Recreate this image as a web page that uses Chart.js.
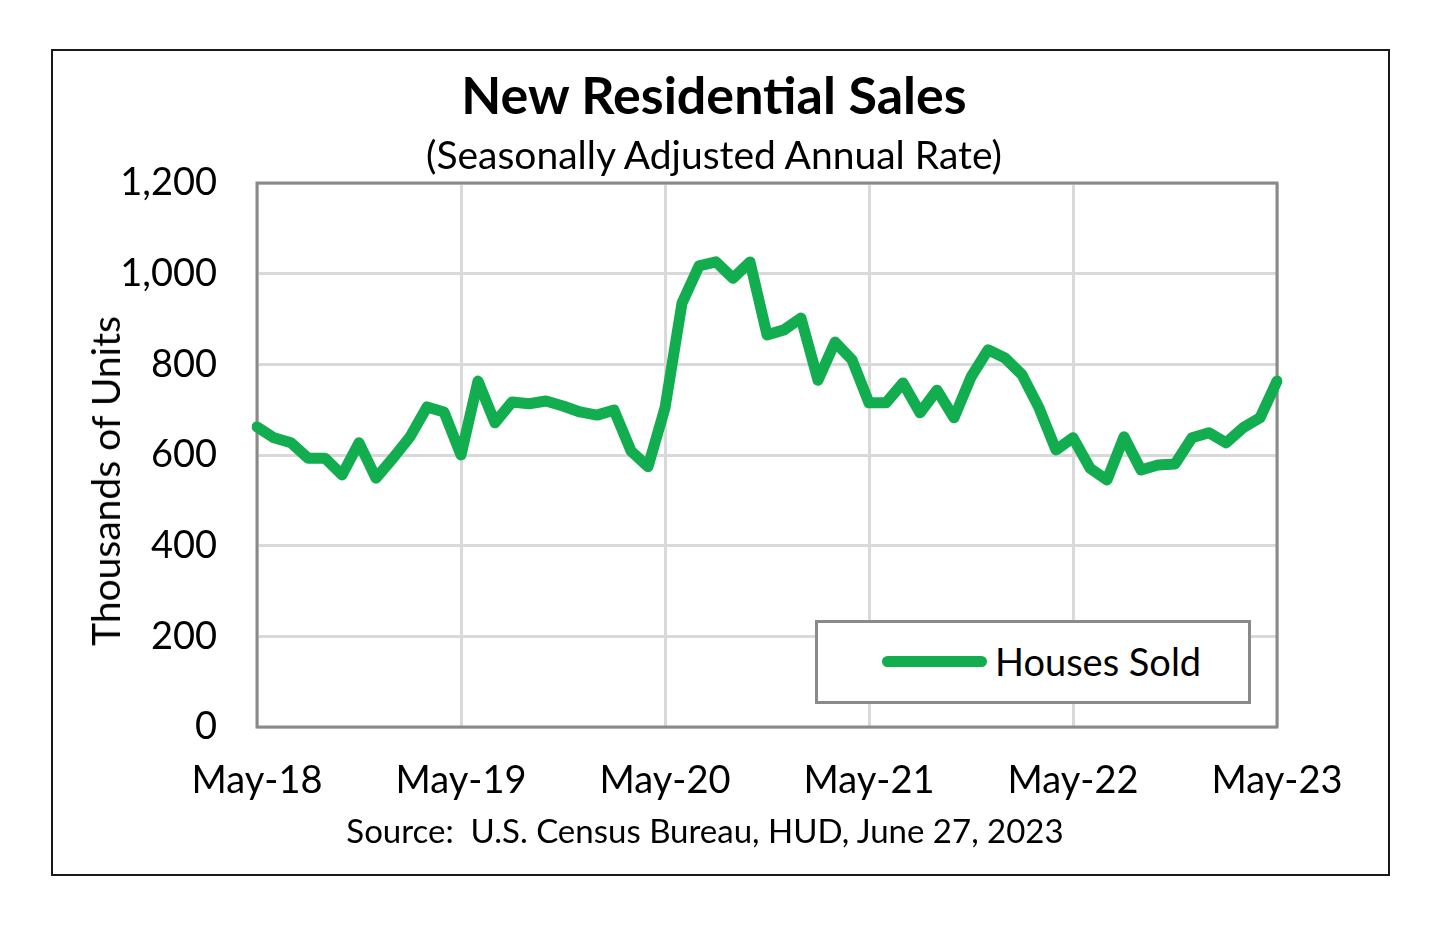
<!DOCTYPE html>
<html lang="en">
<head>
<meta charset="UTF-8">
<title>New Residential Sales</title>
<script src="https://cdn.jsdelivr.net/npm/chart.js@4.4.0/dist/chart.umd.min.js"></script>
<style>
    html, body { margin: 0; padding: 0; background: #fff; }
    body { width: 1440px; height: 932px; position: relative; overflow: hidden; font-family: Lato, 'Noto Sans', sans-serif; color: #000; }
    .marco { position: absolute; left: 51px; top: 49px; width: 1335px; height: 823px; border: 2px solid #1a1a1a; }
    #wrap { position: absolute; left: 0; top: 0; width: 1440px; height: 932px; }
    .titulo { position: absolute; left: 0; width: 1428px; top: 66px; text-align: center; font-weight: 700; font-size: 52px; line-height: 56px; }
    .subtitulo { position: absolute; left: 0; width: 1428px; top: 132px; text-align: center; font-size: 39px; line-height: 44px; }
    .fuente { position: absolute; left: 0; width: 1410px; top: 810px; text-align: center; font-size: 33px; line-height: 40px; }
    .eje-y { position: absolute; left: 105px; top: 481px; transform: translate(-50%, -50%) rotate(-90deg); white-space: nowrap; font-size: 39px; line-height: 44px; }
    .leyenda { position: absolute; left: 815px; top: 620px; width: 430px; height: 78px; border: 3px solid #8a8a8a; background: #fff; }
    .leyenda .muestra { position: absolute; left: 64px; top: 33px; width: 105px; height: 11px; border-radius: 6px; }
    .leyenda .texto { position: absolute; left: 177px; top: 16px; font-size: 38px; line-height: 44px; }
</style>
</head>
<body>
    <div class="marco"></div>
    <div id="wrap"><canvas id="ventasChart"></canvas></div>
    <div class="titulo">New Residential Sales</div>
    <div class="subtitulo">(Seasonally Adjusted Annual Rate)</div>
    <div class="eje-y">Thousands of Units</div>
    <div class="fuente">Source:&nbsp; U.S. Census Bureau, HUD, June 27, 2023</div>
    <div class="leyenda"><span class="muestra" id="muestra"></span><span class="texto" id="leyendaTexto"></span></div>

    <script>
        // datos (miles de unidades, tasa anual)
        const months = [
            'May-18', 'Jun-18', 'Jul-18', 'Aug-18', 'Sep-18', 'Oct-18', 'Nov-18', 'Dec-18', 'Jan-19', 'Feb-19', 'Mar-19', 'Apr-19',
            'May-19', 'Jun-19', 'Jul-19', 'Aug-19', 'Sep-19', 'Oct-19', 'Nov-19', 'Dec-19', 'Jan-20', 'Feb-20', 'Mar-20', 'Apr-20',
            'May-20', 'Jun-20', 'Jul-20', 'Aug-20', 'Sep-20', 'Oct-20', 'Nov-20', 'Dec-20', 'Jan-21', 'Feb-21', 'Mar-21', 'Apr-21',
            'May-21', 'Jun-21', 'Jul-21', 'Aug-21', 'Sep-21', 'Oct-21', 'Nov-21', 'Dec-21', 'Jan-22', 'Feb-22', 'Mar-22', 'Apr-22',
            'May-22', 'Jun-22', 'Jul-22', 'Aug-22', 'Sep-22', 'Oct-22', 'Nov-22', 'Dec-22', 'Jan-23', 'Feb-23', 'Mar-23', 'Apr-23',
            'May-23'
        ];
        const housesSold = [
            662, 638, 627, 593, 593, 556, 627, 549, 593, 640, 706, 695,
            600, 763, 671, 717, 713, 719, 708, 695, 688, 699, 609, 574,
            704, 935, 1017, 1026, 990, 1026, 865, 876, 902, 765, 849, 810,
            715, 715, 759, 693, 743, 682, 772, 832, 814, 777, 704, 611,
            638, 571, 545, 640, 567, 578, 580, 638, 649, 627, 660, 682,
            763
        ];
        const xTickLabels = ['May-18', 'May-19', 'May-20', 'May-21', 'May-22', 'May-23'];
        const yMin = 0;
        const yMax = 1200;
        const yStep = 200;

        const verde = '#12ad4f';
        const gris = '#d9d9d9';
        const grisMarco = '#8a8a8a';

        Chart.defaults.font.family = "Lato, 'Noto Sans', sans-serif";
        Chart.defaults.color = '#000';

        // marco gris alrededor del area del grafico
        const marcoPlugin = {
            id: 'marcoArea',
            beforeDatasetsDraw(chart) {
                const {ctx, chartArea: a} = chart;
                ctx.save();
                ctx.strokeStyle = grisMarco;
                ctx.lineWidth = 3;
                ctx.strokeRect(a.left, a.top, a.right - a.left, a.bottom - a.top);
                ctx.restore();
            }
        };

        const grafico = new Chart(document.getElementById('ventasChart').getContext('2d'), {
            type: 'line',
            data: {
                labels: months,
                datasets: [{
                    label: 'Houses Sold',
                    data: housesSold,
                    borderColor: verde,
                    borderWidth: 11,
                    borderJoinStyle: 'round',
                    borderCapStyle: 'round',
                    pointRadius: 0,
                    tension: 0,
                    fill: false
                }]
            },
            options: {
                responsive: true,
                maintainAspectRatio: false,
                animation: false,
                layout: {
                    padding: { left: 60, right: 163, top: 183, bottom: 115 }
                },
                plugins: {
                    legend: { display: false },
                    tooltip: { enabled: false }
                },
                scales: {
                    x: {
                        offset: false,
                        afterFit: function(scale) { scale.height = 90; },
                        ticks: {
                            autoSkip: false,
                            maxRotation: 0,
                            padding: 31,
                            font: { size: 38 },
                            callback: function(valor, i) {
                                const etiqueta = months[i];
                                return xTickLabels.includes(etiqueta) ? etiqueta : '';
                            }
                        },
                        grid: {
                            drawTicks: false,
                            lineWidth: 3,
                            color: function(c) {
                                return xTickLabels.includes(months[c.index]) ? gris : 'rgba(0,0,0,0)';
                            }
                        },
                        border: { display: false }
                    },
                    y: {
                        min: yMin,
                        max: yMax,
                        afterFit: function(scale) { scale.width = 197; },
                        ticks: {
                            stepSize: yStep,
                            padding: 40,
                            font: { size: 38 },
                            callback: function(valor) {
                                return valor.toLocaleString('en-US');
                            }
                        },
                        grid: {
                            drawTicks: false,
                            lineWidth: 3,
                            color: gris
                        },
                        border: { display: false }
                    }
                }
            },
            plugins: [marcoPlugin]
        });

        // leyenda html a partir del dataset
        const ds = grafico.data.datasets[0];
        document.getElementById('muestra').style.background = ds.borderColor;
        document.getElementById('leyendaTexto').textContent = ds.label;
    </script>
</body>
</html>
